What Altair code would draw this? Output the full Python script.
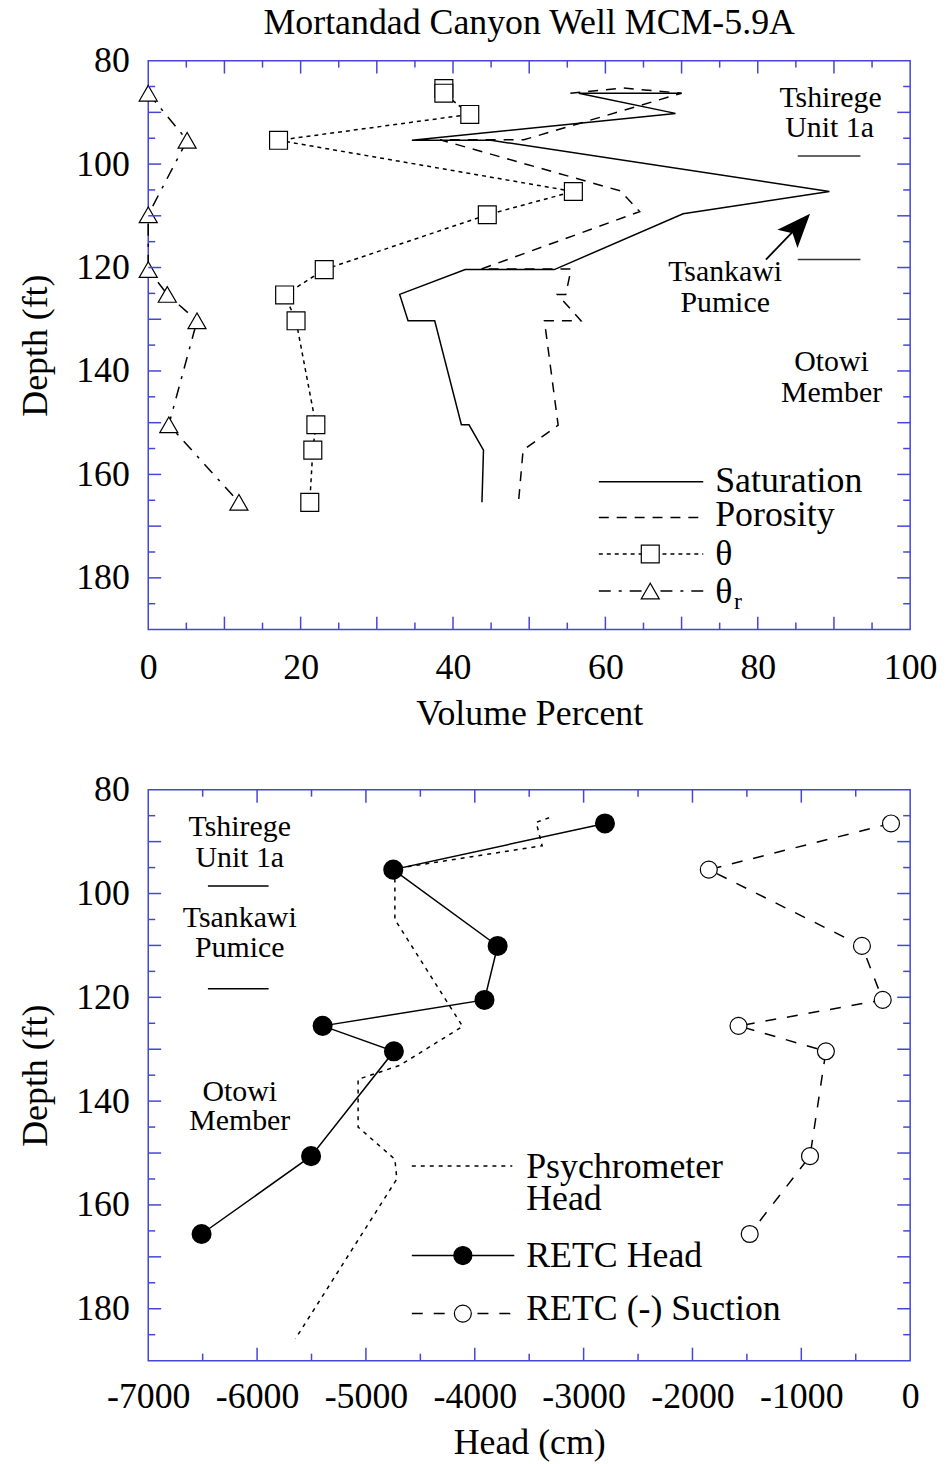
import altair as alt
import pandas as pd

FONT = "Liberation Serif"
BLUE = "#4545d8"
W = 766
H1 = 572
H2 = 574

# ---------------- top panel data (Volume Percent vs Depth) ----------------
sat_value = [70.0, 56.5, 69.2, 34.6, 45.0, 89.4, 70.2, 53.3, 41.6, 33.0, 34.1, 37.6, 41.1, 42.1, 44.0, 43.8]
sat_depth = [86.3, 86.3, 90.2, 95.4, 95.4, 105.3, 109.6, 120.4, 120.4, 125.2, 130.3, 130.3, 150.4, 150.4, 155.3, 165.4]

por_value = [55.4, 62.4, 70.0, 49.3, 38.3, 62.0, 64.5, 43.7, 55.5, 54.8, 53.7, 56.8, 52.0, 53.8, 49.2, 48.6]
por_depth = [86.3, 85.3, 86.3, 95.3, 95.3, 105.2, 109.2, 120.3, 120.3, 125.2, 125.2, 130.3, 130.3, 150.5, 155.3, 165.3]

theta_value = [38.8, 38.8, 42.2, 17.1, 55.8, 44.5, 23.1, 17.9, 19.4, 22.0, 21.6, 21.2]
theta_depth = [85.4, 86.3, 90.4, 95.4, 105.3, 109.8, 120.4, 125.3, 130.3, 150.4, 155.3, 165.4]

thetar_value = [0.0, 5.1, 0.0, 0.0, 2.5, 6.4, 2.7, 11.9]
thetar_depth = [86.3, 95.4, 109.8, 120.4, 125.2, 130.3, 150.4, 165.4]

top_x_labels = [0, 20, 40, 60, 80, 100]
top_x_minor = [5, 15, 25, 35, 45, 55, 65, 75, 85, 95]
top_x_major = [10, 20, 30, 40, 50, 60, 70, 80, 90]

# ---------------- bottom panel data (Head vs Depth) ----------------
retc_depth = [86.5, 95.4, 110.1, 120.5, 125.5, 130.4, 150.6, 165.6]
retc_head = [-2804, -4749, -3790, -3911, -5398, -4743, -5504, -6510]
retc_suction = [-176, -1850, -443, -252, -1577, -774, -920, -1474]

psy_head = [-3317, -3436, -3381, -4734, -4734, -4112, -4688, -5072, -5072, -4734, -4716, -5648]
psy_depth = [85.4, 86.3, 90.8, 95.2, 105.0, 125.6, 133.1, 135.8, 145.0, 151.2, 155.0, 185.8]

bot_x_labels = [-7000, -6000, -5000, -4000, -3000, -2000, -1000, 0]
bot_x_minor = [-6500, -5500, -4500, -3500, -2500, -1500, -500]
bot_x_major = [-6000, -5000, -4000, -3000, -2000, -1000]

depth_labels = [80, 100, 120, 140, 160, 180]
depth_minor = [85, 95, 105, 115, 125, 135, 145, 155, 165, 175, 185]
depth_major = [90, 100, 110, 120, 130, 140, 150, 160, 170, 180]

ARROW = "M0,-1L0.8,1L0,0.55L-0.8,1Z"


def sdf(values, depths):
    return pd.DataFrame({"val": values, "depth": depths, "i": list(range(len(values)))})


one = pd.DataFrame({"k": [0]})


def xaxis(values, title, lp, tp, expr=None):
    kw = dict(values=values, title=title, grid=False, ticks=False, tickSize=0, domain=False,
              labelFont=FONT, labelFontSize=36, labelColor="black", labelPadding=lp,
              labelFlush=False, labelOverlap=False, titleFont=FONT, titleFontSize=36,
              titleFontWeight="normal", titleColor="black", titlePadding=tp)
    if expr:
        kw["labelExpr"] = expr
    return alt.Axis(**kw)


YAXIS = alt.Axis(values=depth_labels, title="Depth (ft)", grid=False, ticks=False, tickSize=0,
                 domain=False, labelFont=FONT, labelFontSize=36, labelColor="black",
                 labelPadding=19, labelFlush=False, labelOverlap=False, titleFont=FONT,
                 titleFontSize=36, titleFontWeight="normal", titleColor="black",
                 titlePadding=21)

XAXIS1 = xaxis(top_x_labels, "Volume Percent", 21, 11)
XAXIS2 = xaxis(bot_x_labels, "Head (cm)", 19, 11,
               "datum.value < 0 ? '-' + format(abs(datum.value), 'd') : '' + datum.value")


def frame_ticks(xs, ys, xa, xminor, xmajor, H):
    layers = []
    for vals, L in ((xminor, 7), (xmajor, 13)):
        base = alt.Chart(pd.DataFrame({"v": vals})).mark_rule(color=BLUE, strokeWidth=1.5)
        xe = alt.X("v:Q", scale=xs, axis=xa, title=xa.title)
        layers.append(base.encode(x=xe, y=alt.value(0), y2=alt.value(L)))
        layers.append(base.encode(x=xe, y=alt.value(H), y2=alt.value(H - L)))
    for vals, L in ((depth_minor, 7), (depth_major, 13)):
        base = alt.Chart(pd.DataFrame({"v": vals})).mark_rule(color=BLUE, strokeWidth=1.5)
        ye = alt.Y("v:Q", scale=ys, axis=YAXIS)
        layers.append(base.encode(y=ye, x=alt.value(0), x2=alt.value(L)))
        layers.append(base.encode(y=ye, x=alt.value(W), x2=alt.value(W - L)))
    return layers


def text(t, x, y, size=36, align="left", color="black"):
    return alt.Chart(one).mark_text(font=FONT, fontSize=size, align=align, baseline="alphabetic",
                                    color=color).encode(x=alt.value(x), y=alt.value(y), text=alt.value(t))


def hline(x1, x2, y, dash=None, color="black", sw=1.5):
    kw = dict(color=color, strokeWidth=sw)
    if dash:
        kw["strokeDash"] = dash
    return alt.Chart(one).mark_rule(**kw).encode(x=alt.value(x1), x2=alt.value(x2), y=alt.value(y))


def sym(x, y, shape, size, fill="white"):
    return alt.Chart(one).mark_point(shape=shape, size=size, filled=True, fill=fill, stroke="black",
                                     strokeWidth=1.2, opacity=1).encode(x=alt.value(x), y=alt.value(y))


# ---------------- top panel ----------------
xs1 = alt.Scale(domain=[0, 100], nice=False, zero=False)
ys1 = alt.Scale(domain=[80, 190], reverse=True, nice=False, zero=False)


def enc1(fieldx="val"):
    return dict(x=alt.X(f"{fieldx}:Q", scale=xs1, axis=XAXIS1),
                y=alt.Y("depth:Q", scale=ys1, axis=YAXIS))


def line1(v, d, dash=None):
    kw = dict(color="black", strokeWidth=1.5)
    if dash:
        kw["strokeDash"] = dash
    return alt.Chart(sdf(v, d)).mark_line(**kw).encode(order="i:Q", **enc1())


def pts1(v, d, shape, size):
    return alt.Chart(sdf(v, d)).mark_point(shape=shape, size=size, filled=True, fill="white",
                                            stroke="black", strokeWidth=1.2, opacity=1).encode(**enc1())


sat = line1(sat_value, sat_depth)
por = line1(por_value, por_depth, [10, 8])
th_l = line1(theta_value, theta_depth, [4, 4])
thr_l = line1(thetar_value, thetar_depth, [12, 8, 3, 8])
th_p = pts1(theta_value, theta_depth, "square", 324)
thr_p = pts1(thetar_value, thetar_depth, "triangle-up", 330)

top_layers = [sat, por, th_l, thr_l, th_p, thr_p] + frame_ticks(xs1, ys1, XAXIS1, top_x_minor, top_x_major, H1)
top_layers += [
    text("Mortandad Canyon Well MCM-5.9A", W / 2, -27, align="center"),
    text("Tshirege", 686, 47, size=30, align="center"),
    text("Unit 1a", 685, 77, size=30, align="center"),
    hline(653, 716, 96, color="#333"),
    hline(653, 716, 200, color="#333"),
    text("Tsankawi", 580, 222, size=30, align="center"),
    text("Pumice", 580, 253, size=30, align="center"),
    text("Otowi", 687, 312, size=30, align="center"),
    text("Member", 687, 343, size=30, align="center"),
    alt.Chart(one).mark_rule(color="black", strokeWidth=1.8).encode(
        x=alt.value(621), y=alt.value(200), x2=alt.value(650), y2=alt.value(170)),
    alt.Chart(one).mark_point(shape=ARROW, size=1156, angle=42, filled=True, fill="black",
                              opacity=1, strokeWidth=0).encode(x=alt.value(654), y=alt.value(166.6)),
    # legend
    hline(453, 558, 423.3),
    text("Saturation", 570, 433.3),
    hline(453, 558, 459.3, dash=[10, 8]),
    text("Porosity", 570, 468.3),
    hline(453, 558, 496, dash=[4, 4]),
    sym(504.7, 496, "square", 324),
    text("θ", 570, 506.7),
    hline(453, 558, 533.3, dash=[12, 8, 3, 8]),
    sym(504.7, 533.3, "triangle-up", 330),
    text("θ", 570, 545),
    text("r", 589, 551, size=24),
]

top = alt.layer(*top_layers).properties(width=W, height=H1)

# ---------------- bottom panel ----------------
xs2 = alt.Scale(domain=[-7000, 0], nice=False, zero=False)
ys2 = alt.Scale(domain=[80, 190], reverse=True, nice=False, zero=False)

retc_df = pd.DataFrame({"head": retc_head, "suction": retc_suction, "depth": retc_depth,
                        "i": list(range(len(retc_depth)))})


def enc2(fx):
    return dict(x=alt.X(f"{fx}:Q", scale=xs2, axis=XAXIS2),
                y=alt.Y("depth:Q", scale=ys2, axis=YAXIS))


psy = alt.Chart(sdf(psy_head, psy_depth)).mark_line(color="black", strokeWidth=1.5,
                                                     strokeDash=[4, 5]).encode(order="i:Q", **enc2("val"))
head_l = alt.Chart(retc_df).mark_line(color="black", strokeWidth=1.5).encode(order="i:Q", **enc2("head"))
suc_l = alt.Chart(retc_df).mark_line(color="black", strokeWidth=1.5,
                                     strokeDash=[11, 11]).encode(order="i:Q", **enc2("suction"))
head_p = alt.Chart(retc_df).mark_point(shape="circle", size=330, filled=True, fill="black",
                                       stroke="black", opacity=1).encode(**enc2("head"))
suc_p = alt.Chart(retc_df).mark_point(shape="circle", size=290, filled=True, fill="white",
                                      stroke="black", strokeWidth=1.2, opacity=1).encode(**enc2("suction"))

bot_layers = [psy, head_l, suc_l, head_p, suc_p] + frame_ticks(xs2, ys2, XAXIS2, bot_x_minor, bot_x_major, H2)
bot_layers += [
    text("Tshirege", 92, 47, size=30, align="center"),
    text("Unit 1a", 92, 78, size=30, align="center"),
    hline(60, 121, 96.7),
    text("Tsankawi", 92, 138, size=30, align="center"),
    text("Pumice", 92, 168, size=30, align="center"),
    hline(60, 121, 200),
    text("Otowi", 92, 313, size=30, align="center"),
    text("Member", 92, 342, size=30, align="center"),
    # legend
    hline(265, 366, 378.3, dash=[4, 5]),
    text("Psychrometer", 380, 390),
    text("Head", 380, 423),
    hline(265, 368, 468.3),
    sym(316.3, 468.3, "circle", 330, fill="black"),
    text("RETC Head", 380, 480),
    hline(265, 368, 526.7, dash=[11, 11]),
    sym(316.3, 526.7, "circle", 290),
    text("RETC (-) Suction", 380, 533.3),
]

bottom = alt.layer(*bot_layers).properties(width=W, height=H2)

chart = alt.vconcat(top, bottom, spacing=39).properties(
    padding={"left": 9, "top": -8, "right": 0, "bottom": 0}
).configure_view(stroke=BLUE, strokeWidth=1.5)

chart.save("out.html", embed_options={"renderer": "svg", "actions": False})
